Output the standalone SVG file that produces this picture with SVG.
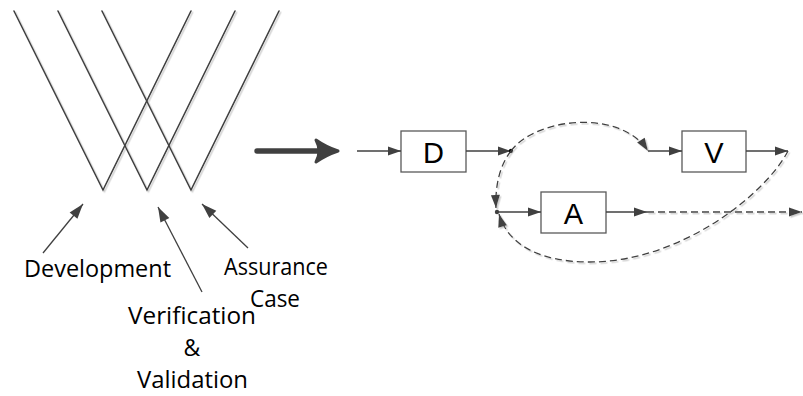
<svg xmlns="http://www.w3.org/2000/svg" width="803" height="396" viewBox="0 0 803 396">
<style>
.vline{fill:none;stroke:#404040;stroke-width:1.6;stroke-linecap:round;stroke-linejoin:miter}
.conn{fill:none;stroke:#404040;stroke-width:1.3}
.dash{fill:none;stroke:#404040;stroke-width:1.3;stroke-dasharray:7 4}
.box{fill:#ffffff;stroke:#595959;stroke-width:1.3}
.boxtxt{font-family:"Liberation Sans",Arial,sans-serif;font-size:29px;fill:#000000;text-anchor:middle}
.lbl{font-family:"Open Sans","Noto Sans",sans-serif;font-size:23px;fill:#000000}
</style>
<defs>
<marker id="ah" markerUnits="userSpaceOnUse" markerWidth="14" markerHeight="10" refX="13" refY="4.5" orient="auto" overflow="visible">
<path d="M0,0 L13,4.5 L0,9 Z" fill="#404040" stroke="none"/>
</marker>
<marker id="ahL" markerUnits="userSpaceOnUse" markerWidth="16" markerHeight="10" refX="15" refY="5" orient="auto" overflow="visible">
<path d="M0,0 L15,5 L0,10 Z" fill="#404040" stroke="none"/>
</marker>
<filter id="sh" x="-10%" y="-10%" width="120%" height="120%">
<feDropShadow dx="1.5" dy="1.5" stdDeviation="0.4" flood-color="#c8c8c8" flood-opacity="0.9"/>
</filter>
</defs>
<rect width="803" height="396" fill="#ffffff"/>

<g id="v-lines" filter="url(#sh)">
<polyline class="vline" points="14,11 103,190 191,11"/>
<polyline class="vline" points="58,11 147,190 235,11"/>
<polyline class="vline" points="102,11 191,190 279,11"/>
</g>

<g id="big-arrow">
<line x1="257" y1="151" x2="318" y2="151" stroke="#404040" stroke-width="5.5" stroke-linecap="round"/>
<path d="M338,151 Q326,147 316,140 Q322,151 316,162 Q326,155 338,151 Z" fill="#404040" stroke="#404040" stroke-width="3" stroke-linejoin="round"/>
</g>

<g id="labels">
<text class="lbl" x="24" y="277" textLength="147" lengthAdjust="spacingAndGlyphs">Development</text>
<text class="lbl" x="224" y="275" textLength="104" lengthAdjust="spacingAndGlyphs">Assurance</text>
<text class="lbl" x="250" y="307" textLength="50" lengthAdjust="spacingAndGlyphs">Case</text>
<text class="lbl" x="128" y="324" textLength="128" lengthAdjust="spacingAndGlyphs">Verification</text>
<text class="lbl" x="192" y="356" text-anchor="middle">&amp;</text>
<text class="lbl" x="137" y="388" textLength="111" lengthAdjust="spacingAndGlyphs">Validation</text>
</g>

<g id="node-D">
<rect class="box" x="401" y="131" width="65" height="41"/>
<text class="boxtxt" x="433.5" y="163">D</text>
</g>
<g id="node-V">
<rect class="box" x="682" y="131" width="64" height="41"/>
<text class="boxtxt" x="714" y="163">V</text>
</g>
<g id="node-A">
<rect class="box" x="541" y="192" width="65" height="41"/>
<text class="boxtxt" x="573.5" y="224">A</text>
</g>

<g id="connectors">
<line class="conn" x1="43" y1="253" x2="83" y2="204" marker-end="url(#ahL)"/>
<line class="conn" x1="202" y1="292" x2="158" y2="207" marker-end="url(#ahL)"/>
<line class="conn" x1="248" y1="248" x2="202" y2="204" marker-end="url(#ahL)"/>

<line class="conn" x1="357" y1="151" x2="401" y2="151" marker-end="url(#ah)"/>
<line class="conn" x1="466" y1="151" x2="511" y2="151" marker-end="url(#ah)"/>
<circle cx="511" cy="151" r="2.2" fill="#000000"/>
<g filter="url(#sh)">
<path class="dash" d="M511,151 C535,118 620,108 648,151" marker-end="url(#ah)"/>
<path class="dash" d="M511,151 C500,165 495,185 496,208" marker-end="url(#ah)"/>
<path class="dash" d="M788,151 C765,195 680,262 590,262 C540,262 508,245 499,214" marker-end="url(#ah)"/>
<line class="dash" x1="647" y1="212" x2="802" y2="212" marker-end="url(#ah)"/>
</g>
<line class="conn" x1="648" y1="151" x2="682" y2="151" marker-end="url(#ah)"/>
<line class="conn" x1="746" y1="151" x2="788" y2="151" marker-end="url(#ah)"/>
<circle cx="497" cy="212" r="2.2" fill="#404040"/>
<line class="conn" x1="497" y1="212" x2="541" y2="212" marker-end="url(#ah)"/>
<line class="conn" x1="606" y1="212" x2="647" y2="212" marker-end="url(#ah)"/>
</g>
</svg>
